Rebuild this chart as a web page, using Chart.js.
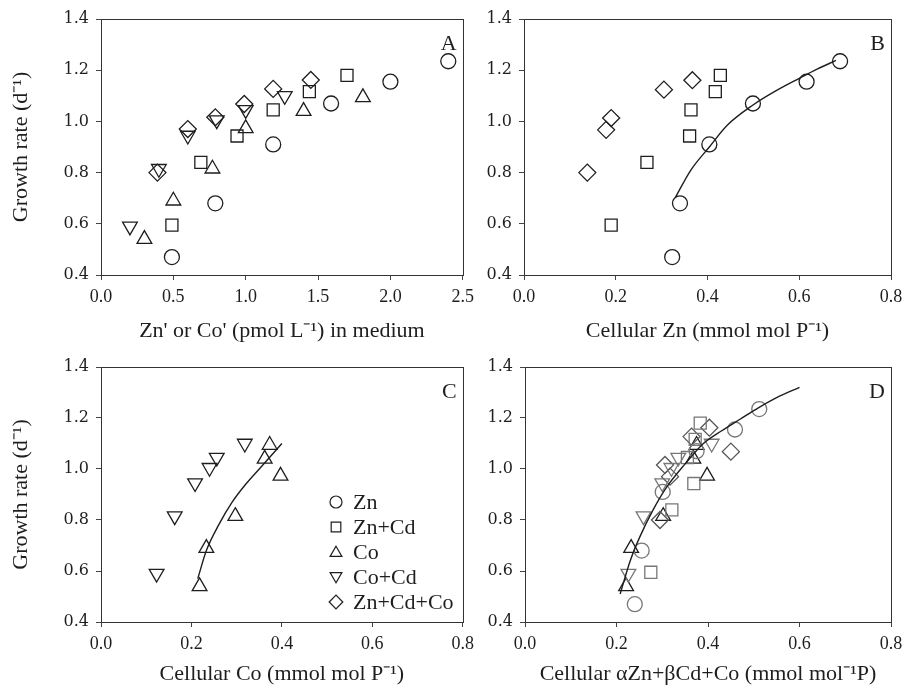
<!DOCTYPE html>
<html>
<head>
<meta charset="utf-8">
<script src="https://cdn.jsdelivr.net/npm/chart.js@4.4.0/dist/chart.umd.min.js"></script>
<style>
  html, body { margin: 0; padding: 0; background: #ffffff; }
  #wrap { position: relative; width: 915px; height: 693px; overflow: hidden; background: #fff; }
  canvas { position: absolute; }
</style>
</head>
<body>
<div id="wrap">
  <canvas id="cA" width="480" height="350" style="left:0;top:0"></canvas>
  <canvas id="cB" width="435" height="350" style="left:480px;top:0"></canvas>
  <canvas id="cC" width="480" height="343" style="left:0;top:350px"></canvas>
  <canvas id="cD" width="435" height="343" style="left:480px;top:350px"></canvas>
</div>
<script>
// ---------------- DATA ----------------
const seriesLabels = ["Zn", "Zn+Cd", "Co", "Co+Cd", "Zn+Cd+Co"];
const yTicks = [0.4, 0.6, 0.8, 1.0, 1.2, 1.4];
const xTicksMedium = [0.0, 0.5, 1.0, 1.5, 2.0, 2.5];
const xTicksCell = [0.0, 0.2, 0.4, 0.6, 0.8];

// growth rates (d-1)
const znGrowth     = [0.47, 0.68, 0.91, 1.07, 1.155, 1.235];
const znCdGrowth   = [0.595, 0.84, 0.943, 1.045, 1.116, 1.18];
const coGrowth     = [0.54, 0.69, 0.815, 0.973, 1.04, 1.094];
const coCdGrowth   = [0.59, 0.815, 0.945, 1.005, 1.045, 1.10];
const znCdCoGrowth = [0.80, 0.97, 1.016, 1.068, 1.127, 1.162];

// Panel A: Zn' or Co' in medium (pmol L-1)
const znMedium     = [0.49, 0.79, 1.19, 1.59, 2.00, 2.40];
const znCdMedium   = [0.49, 0.69, 0.94, 1.19, 1.44, 1.70];
const coMedium     = [0.30, 0.50, 0.77, 1.00, 1.40, 1.81];
const coCdMedium   = [0.20, 0.40, 0.60, 0.80, 1.00, 1.27];
const znCdCoMedium = [0.39, 0.60, 0.79, 0.99, 1.19, 1.45];

// Panel B: cellular Zn (mmol mol P-1)
const znCellZn     = [0.323, 0.34, 0.404, 0.499, 0.616, 0.689];
const znCdCellZn   = [0.19, 0.268, 0.361, 0.364, 0.417, 0.428];
const znCdCoCellZn = [0.138, 0.179, 0.19, 0.305, 0.367];
const znCdCoCellZnGrowth = [0.80, 0.967, 1.013, 1.124, 1.161];
const fitBx = [0.33, 0.363, 0.404, 0.443, 0.50, 0.545, 0.60, 0.64, 0.68];
const fitBy = [0.703, 0.808, 0.90, 0.985, 1.065, 1.115, 1.168, 1.205, 1.238];

// Panel C: cellular Co (mmol mol P-1)
const coCellCo     = [0.218, 0.233, 0.297, 0.397, 0.362, 0.373];
const coCdCellCo   = [0.123, 0.163, 0.208, 0.24, 0.256, 0.318];
const fitCx = [0.214, 0.233, 0.26, 0.29, 0.32, 0.35, 0.38, 0.40];
const fitCy = [0.57, 0.68, 0.78, 0.87, 0.94, 1.00, 1.06, 1.10];

// Panel D: cellular aZn+bCd+Co (mmol mol-1 P)
const znSum     = [0.240, 0.255, 0.301, 0.375, 0.459, 0.512];
const znCdSum   = [0.275, 0.321, 0.369, 0.355, 0.372, 0.383];
const coSum     = [0.221, 0.232, 0.302, 0.398, 0.368, 0.375];
const coCdSum   = [0.226, 0.259, 0.30, 0.32, 0.335, 0.408];
const znCdCoSum = [0.295, 0.317, 0.306, 0.45, 0.364, 0.403];
const fitDx = [0.208, 0.23, 0.25, 0.28, 0.31, 0.35, 0.39, 0.43, 0.47, 0.51, 0.55, 0.60];
const fitDy = [0.51, 0.64, 0.73, 0.84, 0.93, 1.02, 1.10, 1.15, 1.195, 1.24, 1.28, 1.32];

// ---------------- HELPERS ----------------
const INK = '#1e1e1e';
const SERIF = '"Liberation Serif", "Times New Roman", serif';
const WIDE_SERIF = '"DejaVu Serif", "Liberation Serif", serif';
const pts = (xs, ys) => xs.map((x, i) => ({ x: x, y: ys[i] }));

const markerStyles = {
  "Zn":       { pointStyle: 'circle',   radius: 7.5, rotation: 0 },
  "Zn+Cd":    { pointStyle: 'rect',     radius: 8.5, rotation: 0 },
  "Co":       { pointStyle: 'triangle', radius: 8.5, rotation: 0 },
  "Co+Cd":    { pointStyle: 'triangle', radius: 8.5, rotation: 180 },
  "Zn+Cd+Co": { pointStyle: 'rectRot',  radius: 8.5, rotation: 0 }
};

function markerDs(label, data, color) {
  const m = markerStyles[label];
  return {
    label: label, data: data, showLine: false,
    pointStyle: m.pointStyle, pointRadius: m.radius, pointHoverRadius: m.radius,
    pointRotation: m.rotation,
    pointBackgroundColor: 'rgba(0,0,0,0)', pointBorderColor: color || INK,
    pointBorderWidth: 1.3, borderColor: color || INK, backgroundColor: 'rgba(0,0,0,0)'
  };
}
function fitDs(xs, ys) {
  return {
    label: 'fit', data: pts(xs, ys), showLine: true, pointRadius: 0, pointHoverRadius: 0,
    borderColor: INK, borderWidth: 1.4, cubicInterpolationMode: 'monotone', fill: false
  };
}

const boxPlugin = {
  id: 'box',
  afterDraw(chart) {
    const a = chart.chartArea, ctx = chart.ctx;
    ctx.save();
    ctx.strokeStyle = '#333';
    ctx.lineWidth = 1;
    ctx.strokeRect(Math.round(a.left) + 0.5, Math.round(a.top) + 0.5,
                   Math.round(a.right - a.left), Math.round(a.bottom - a.top));
    const opt = chart.options.plugins.panelLabel;
    if (opt && opt.text) {
      ctx.fillStyle = INK;
      ctx.font = '22px ' + SERIF;
      ctx.textAlign = 'right';
      ctx.textBaseline = 'middle';
      ctx.fillText(opt.text, a.right - 6, a.top + 25);
    }
    ctx.restore();
  }
};

const legendPlugin = {
  id: 'cornerLegend',
  afterDraw(chart) {
    const opt = chart.options.plugins.cornerLegend;
    if (!opt || !opt.show) return;
    const a = chart.chartArea, ctx = chart.ctx;
    ctx.save();
    seriesLabels.forEach((lab, i) => {
      const m = markerStyles[lab];
      const x = a.left + 235, y = a.top + 135 + i * 25;
      ctx.strokeStyle = INK; ctx.fillStyle = 'rgba(0,0,0,0)'; ctx.lineWidth = 1.2;
      const o = { pointStyle: m.pointStyle, radius: m.radius * 0.8, rotation: m.rotation, borderWidth: 1.2 };
      if (Chart.helpers && Chart.helpers.drawPoint) {
        Chart.helpers.drawPoint(ctx, o, x, y + (m.pointStyle === 'triangle' ? (m.rotation ? -1 : 1) : 0));
      } else {
        ctx.beginPath(); ctx.arc(x, y, o.radius, 0, Math.PI * 2); ctx.stroke();
      }
      ctx.fillStyle = INK;
      ctx.font = '22px ' + SERIF;
      ctx.textAlign = 'left';
      ctx.textBaseline = 'middle';
      ctx.fillText(lab, x + 17, y + 1);
    });
    ctx.restore();
  }
};

function makeScales(opts) {
  return {
    x: {
      type: 'linear', min: opts.xMin, max: opts.xMax,
      afterFit(s) { s.height = opts.xHeight; },
      afterBuildTicks(s) { s.ticks = opts.xTicks.map(v => ({ value: v })); },
      ticks: {
        color: INK, font: { family: SERIF, size: 18 }, padding: 6, maxRotation: 0,
        autoSkip: false, callback: v => Number(v).toFixed(1)
      },
      grid: { drawOnChartArea: false, drawTicks: true, tickLength: 5, color: '#444' },
      border: { display: true, color: '#333' },
      title: { display: true, text: opts.xTitle, color: INK, font: { family: SERIF, size: 22 },
               padding: { top: 2, bottom: 6 } }
    },
    y: {
      type: 'linear', min: 0.4, max: 1.4,
      afterFit(s) { s.width = opts.yWidth; },
      afterBuildTicks(s) { s.ticks = yTicks.map(v => ({ value: v })); },
      ticks: {
        color: INK, font: { family: WIDE_SERIF, size: 16 }, padding: 7,
        autoSkip: false, callback: v => Number(v).toFixed(1)
      },
      grid: { drawOnChartArea: false, drawTicks: true, tickLength: 5, color: '#444' },
      border: { display: true, color: '#333' },
      title: { display: opts.yTitle, text: 'Growth rate (d\u207B\u00B9)', color: INK,
               font: { family: SERIF, size: 22 }, padding: { top: 8, bottom: 0 } }
    }
  };
}

function makeChart(id, datasets, opts) {
  return new Chart(document.getElementById(id), {
    type: 'scatter',
    data: { datasets: datasets },
    options: {
      responsive: false, animation: false, devicePixelRatio: 1,
      layout: { padding: opts.padding },
      scales: makeScales(opts),
      plugins: {
        legend: { display: false }, tooltip: { enabled: false },
        panelLabel: { text: opts.letter },
        cornerLegend: { show: !!opts.legend }
      }
    },
    plugins: [boxPlugin, legendPlugin]
  });
}

// ---------------- CHARTS ----------------
makeChart('cA', [
  markerDs('Zn', pts(znMedium, znGrowth)),
  markerDs('Zn+Cd', pts(znCdMedium, znCdGrowth)),
  markerDs('Co', pts(coMedium, coGrowth)),
  markerDs('Co+Cd', pts(coCdMedium, coCdGrowth)),
  markerDs('Zn+Cd+Co', pts(znCdCoMedium, znCdCoGrowth))
], { xMin: 0, xMax: 2.5, xTicks: xTicksMedium, xHeight: 75, yWidth: 101, yTitle: true,
     xTitle: "Zn' or Co' (pmol L\u207B\u00B9) in medium", letter: 'A',
     padding: { top: 19, right: 14, left: 0, bottom: 0 } });

makeChart('cB', [
  fitDs(fitBx, fitBy),
  markerDs('Zn', pts(znCellZn, znGrowth)),
  markerDs('Zn+Cd', pts(znCdCellZn, znCdGrowth)),
  markerDs('Zn+Cd+Co', pts(znCdCoCellZn, znCdCoCellZnGrowth))
], { xMin: 0, xMax: 0.8, xTicks: xTicksCell, xHeight: 75, yWidth: 44, yTitle: false,
     xTitle: 'Cellular Zn (mmol mol P\u207B\u00B9)', letter: 'B',
     padding: { top: 19, right: 24, left: 0, bottom: 0 } });

makeChart('cC', [
  fitDs(fitCx, fitCy),
  markerDs('Co', pts(coCellCo, coGrowth)),
  markerDs('Co+Cd', pts(coCdCellCo, coCdGrowth))
], { xMin: 0, xMax: 0.8, xTicks: xTicksCell, xHeight: 71, yWidth: 101, yTitle: true,
     xTitle: 'Cellular Co (mmol mol P\u207B\u00B9)', letter: 'C', legend: true,
     padding: { top: 17, right: 13, left: 0, bottom: 0 } });

makeChart('cD', [
  fitDs(fitDx, fitDy),
  markerDs('Zn', pts(znSum, znGrowth), '#777'),
  markerDs('Zn+Cd', pts(znCdSum, znCdGrowth), '#777'),
  markerDs('Co+Cd', pts(coCdSum, coCdGrowth), '#777'),
  markerDs('Zn+Cd+Co', pts(znCdCoSum, znCdCoGrowth), '#555'),
  markerDs('Co', pts(coSum, coGrowth))
], { xMin: 0, xMax: 0.8, xTicks: xTicksCell, xHeight: 71, yWidth: 45, yTitle: false,
     xTitle: 'Cellular \u03B1Zn+\u03B2Cd+Co (mmol mol\u207B\u00B9P)', letter: 'D',
     padding: { top: 17, right: 24, left: 0, bottom: 0 } });
</script>
</body>
</html>
